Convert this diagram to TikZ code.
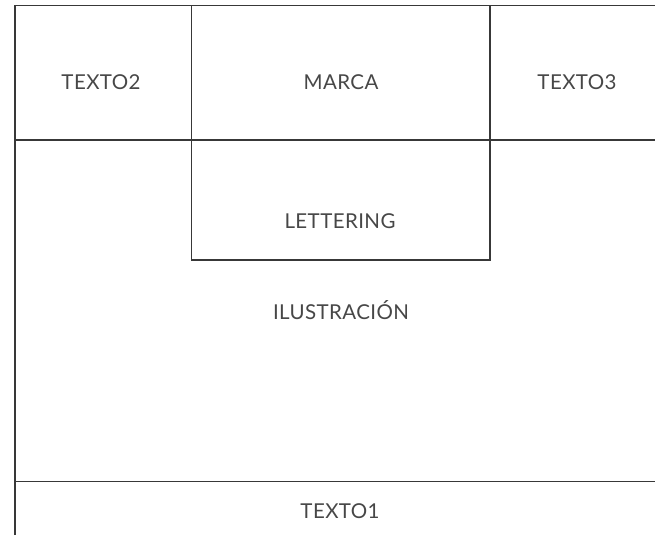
\documentclass[tikz,border=0pt]{standalone}
\usepackage{fontspec}
\setmainfont{Lato}
\newfontfamily\labelfont[LetterSpace=2]{Lato}
\begin{document}
\begin{tikzpicture}[x=1pt,y=-1pt,
  frame/.style={draw=black!78,line width=1.1pt},
  label/.style={anchor=base,inner sep=0pt,text=black!72,font=\labelfont\fontsize{20.5}{24}\selectfont}]
\useasboundingbox (0,0) rectangle (655,535);
% frame lines
\draw[frame] (15,535) -- (15,5.5) -- (655,5.5);
\draw[frame] (15,140) -- (655,140);
\draw[frame] (15,481.5) -- (655,481.5);
\draw[frame] (191.5,5.5) -- (191.5,260) -- (490,260) -- (490,5.5);
% labels
\node[label] (t2) at (101,89) {TEXTO2};
\node[label] (marca) at (341,89) {MARCA};
\node[label] (t3) at (577,89) {TEXTO3};
\node[label] (lett) at (340,228) {LETTERING};
\node[label] (ilus) at (341,319) {ILUSTRACIÓN};
\node[label] (t1) at (340,518) {TEXTO1};
\end{tikzpicture}
\end{document}
